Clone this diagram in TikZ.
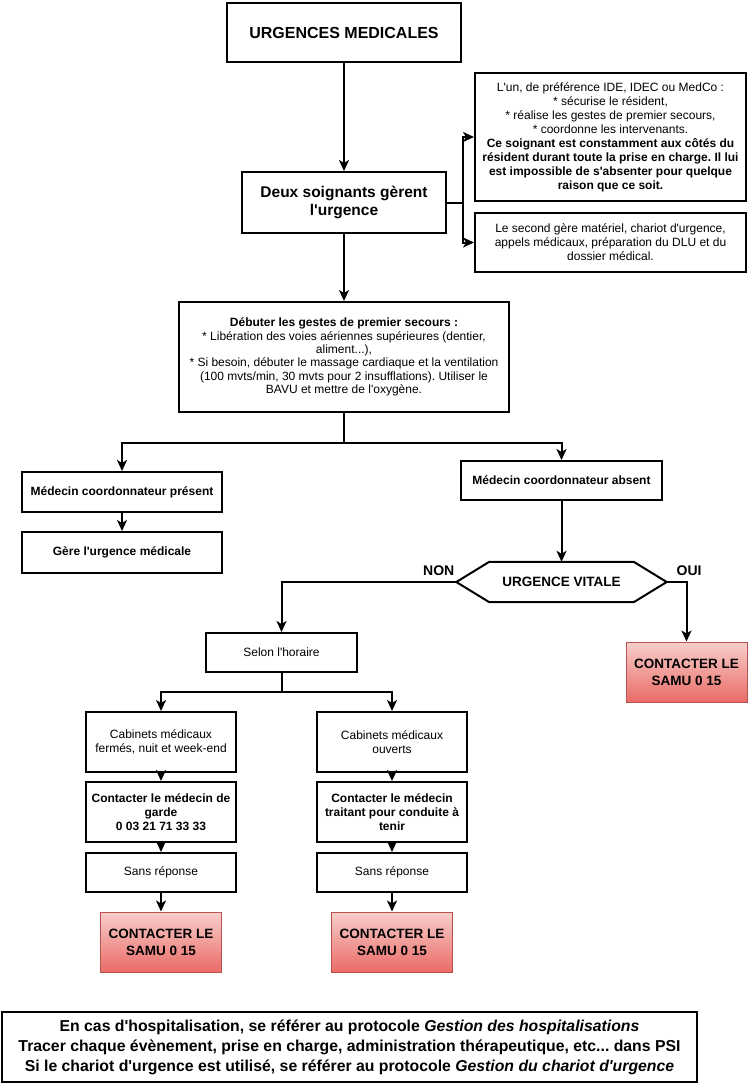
\documentclass[tikz,border=0pt]{standalone}
\usepackage{fontspec}
\setmainfont{Liberation Sans}[Ligatures=TeXOff]
\usetikzlibrary{arrows.meta, positioning}
\frenchspacing

\definecolor{samuhaut}{HTML}{F8CECC}
\definecolor{samubas}{HTML}{EA6B66}
\definecolor{samubord}{HTML}{B85450}

\tikzset{
  boite/.style={draw, line width=2pt, fill=white, align=center, inner sep=2pt, font=\fontsize{12}{14}\selectfont},
  gras/.style={boite, font=\fontsize{12}{14}\selectfont\bfseries},
  samu/.style={draw=samubord, line width=1pt, top color=samuhaut, bottom color=samubas, align=center, minimum width=121pt, minimum height=60pt, font=\fontsize{13.5}{17}\selectfont\bfseries},
  fleche/.style={line width=2pt, -{Stealth[length=11pt, width=10pt, inset=3pt]}},
  etiquette/.style={font=\fontsize{14}{16}\selectfont\bfseries, inner sep=1pt}
}

\begin{document}
\begin{tikzpicture}[x=1pt, y=-1pt, on grid, node distance=20pt]
\useasboundingbox (0,0) rectangle (748,1084);

% haut : les deux soignants
\node[gras, minimum width=234pt, minimum height=59pt, font=\fontsize{16}{19}\selectfont\bfseries] (titre) at (344,32.5) {URGENCES MEDICALES};
\node[gras, below=170pt of titre, minimum width=204pt, minimum height=61pt, font=\fontsize{15.5}{18}\selectfont\bfseries] (deux) {Deux soignants gèrent\\l'urgence};
\node[boite, above right=65.5pt and 266.5pt of deux, minimum width=271pt, minimum height=128pt] (role1) {L'un, de préférence IDE, IDEC ou MedCo :\\* sécurise le résident,\\* réalise les gestes de premier secours,\\* coordonne les intervenants.\\\textbf{Ce soignant est constamment aux côtés du}\\\textbf{résident durant toute la prise en charge. Il lui}\\\textbf{est impossible de s'absenter pour quelque}\\\textbf{raison que ce soit.}};
\node[boite, below=105.5pt of role1, minimum width=271pt, minimum height=59pt] (role2) {Le second gère matériel, chariot d'urgence,\\appels médicaux, préparation du DLU et du\\dossier médical.};
\node[boite, below=154.5pt of deux, minimum width=330pt, minimum height=110pt, font=\fontsize{12}{13.4}\selectfont] (gestes) {\textbf{Débuter les gestes de premier secours :}\\* Libération des voies aériennes supérieures (dentier,\\aliment...),\\* Si besoin, débuter le massage cardiaque et la ventilation\\(100 mvts/min, 30 mvts pour 2 insufflations). Utiliser le\\BAVU et mettre de l'oxygène.};

% medecin coordonnateur
\node[gras, below left=135pt and 222pt of gestes, minimum width=200pt, minimum height=40pt] (present) {Médecin coordonnateur présent};
\node[gras, below=60.5pt of present, minimum width=200pt, minimum height=41pt] (gere) {Gère l'urgence médicale};
\node[gras, below right=123.5pt and 217.5pt of gestes, minimum width=201pt, minimum height=39pt] (absent) {Médecin coordonnateur absent};

% urgence vitale
\node[minimum width=210pt, minimum height=40pt, inner sep=0pt, font=\fontsize{13.5}{15}\selectfont\bfseries, below=101.5pt of absent] (vitale) {URGENCE VITALE};
\draw[line width=2pt] (vitale.west) -- ([xshift=33pt]vitale.north west) -- ([xshift=-33pt]vitale.north east) -- (vitale.east) -- ([xshift=-33pt]vitale.south east) -- ([xshift=33pt]vitale.south west) -- cycle;
\node[samu, below right=90pt and 125pt of vitale] (samuR) {CONTACTER LE\\SAMU 0 15};
\node[boite, below left=70.5pt and 280pt of vitale, minimum width=151pt, minimum height=39pt] (selon) {Selon l'horaire};

% selon l'horaire
\node[boite, below left=89.5pt and 120.5pt of selon, minimum width=150pt, minimum height=60pt] (fermes) {Cabinets médicaux\\fermés, nuit et week-end};
\node[boite, below right=89.5pt and 110.5pt of selon, minimum width=150pt, minimum height=60pt] (ouverts) {Cabinets médicaux\\ouverts};
\node[gras, below=70pt of fermes, minimum width=150pt, minimum height=60pt] (garde) {Contacter le médecin de\\garde\\0 03 21 71 33 33};
\node[gras, below=70pt of ouverts, minimum width=150pt, minimum height=60pt] (traitant) {Contacter le médecin\\traitant pour conduite à\\tenir};
\node[boite, below=60.5pt of garde, minimum width=150pt, minimum height=39pt] (sansG) {Sans réponse};
\node[boite, below=60.5pt of traitant, minimum width=150pt, minimum height=39pt] (sansT) {Sans réponse};
\node[samu, below=69.5pt of sansG] (samuG) {CONTACTER LE\\SAMU 0 15};
\node[samu, below=69.5pt of sansT] (samuT) {CONTACTER LE\\SAMU 0 15};

% rappel en bas
\node[gras, minimum width=695pt, minimum height=70pt, font=\fontsize{15.8}{20}\selectfont\bfseries] (bas) at (349.5,1047) {En cas d'hospitalisation, se référer au protocole \textit{Gestion des hospitalisations}\\Tracer chaque évènement, prise en charge, administration thérapeutique, etc... dans PSI\\Si le chariot d'urgence est utilisé, se référer au protocole \textit{Gestion du chariot d'urgence}};

% liaisons
\draw[fleche] (titre) -- (deux);
\coordinate (jonction) at ([xshift=16pt]deux.east);
\draw[line width=2pt] (deux.east) -- (jonction);
\draw[fleche] (jonction) |- (role1.west);
\draw[fleche] (jonction) |- (role2.west);
\draw[fleche] (deux) -- (gestes);
\coordinate (fourche) at ([yshift=-30pt]gestes.south);
\draw[fleche] (gestes.south) -- (fourche) -| (present.north);
\draw[fleche] (fourche) -| (absent.north);
\draw[fleche] (present) -- (gere);
\draw[fleche] (absent) -- (vitale);
\draw[fleche] (vitale.west) -| node[etiquette, pos=0, anchor=south east, xshift=0pt, yshift=4pt] {NON} (selon.north);
\draw[fleche] (vitale.east) -| node[etiquette, pos=0, anchor=south west, xshift=8pt, yshift=4pt] {OUI} (samuR.north);
\coordinate (fourche2) at ([yshift=-19pt]selon.south);
\draw[fleche] (selon.south) -- (fourche2) -| (fermes.north);
\draw[fleche] (fourche2) -| (ouverts.north);
\foreach \a/\b in {fermes/garde, garde/sansG, sansG/samuG, ouverts/traitant, traitant/sansT, sansT/samuT}
  \draw[fleche] (\a) -- (\b);

\end{tikzpicture}
\end{document}
